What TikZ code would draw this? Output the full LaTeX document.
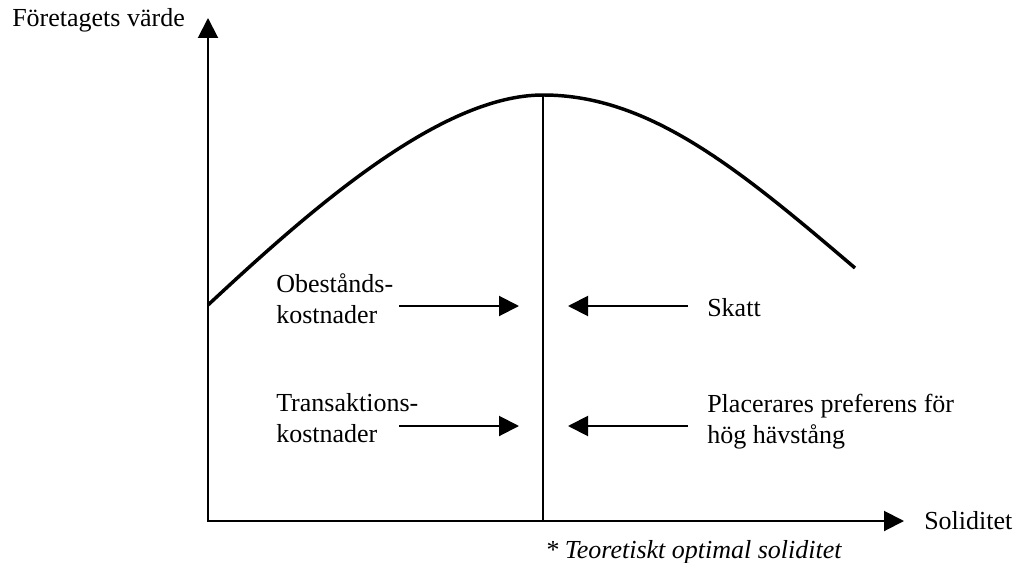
\documentclass[tikz,border=0pt]{standalone}
\usepackage{fontspec}
\setmainfont{Liberation Serif}
\usetikzlibrary{arrows.meta}
\begin{document}
\begin{tikzpicture}[x=0.75pt,y=-0.75pt,
  lbl/.style={inner sep=0pt, font=\fontsize{19.5}{23.25}\selectfont, align=left},
  ax/.style={line width=1.5pt, {Triangle[length=15pt,width=15pt]}-{Triangle[length=15pt,width=15pt]}},
  arr/.style={line width=1.5pt, -{Triangle[length=15pt,width=15pt]}},
  curve/.style={line width=2.6pt},
  ]
\useasboundingbox (0,0) rectangle (1016,563);
\coordinate (O) at (208,521);
\coordinate (ytip) at (208,18);
\coordinate (xtip) at (904,521);
\coordinate (start) at (208,305);
\coordinate (peak) at (543,95);
\coordinate (end) at (855,268);
\draw[ax] (ytip) -- (O) -- (xtip);
\draw[curve] (start) .. controls (310,210) and (440,95) .. (peak)
  .. controls (650,95) and (740,170) .. (end);
\draw[line width=1.5pt] (peak) -- (peak |- O);

\node[lbl, anchor=base west] (fv) at (12,27) {Företagets värde};
\node[lbl, anchor=base west] (sol) at (924,529) {Soliditet};
\node[lbl, anchor=base west, font=\fontsize{19.5}{23.25}\selectfont\itshape] (opt) at (545,558) {* Teoretiskt optimal soliditet};

\node[lbl, anchor=base west] (ob) at (276,323) {Obestånds-\\kostnader};
\node[lbl, anchor=base west] (tr) at (276,442) {Transaktions-\\kostnader};
\node[lbl, anchor=base west] (sk) at (707,316) {Skatt};
\node[lbl, anchor=base west] (pl) at (707,443) {Placerares preferens för\\hög hävstång};

\coordinate (a1s) at (399,306);
\coordinate (a1e) at (519,306);
\coordinate (a2s) at (399,426);
\coordinate (a2e) at (519,426);
\coordinate (b1s) at (688,306);
\coordinate (b1e) at (568,306);
\coordinate (b2s) at (688,426);
\coordinate (b2e) at (568,426);
\draw[arr] (a1s) -- (a1e);
\draw[arr] (a2s) -- (a2e);
\draw[arr] (b1s) -- (b1e);
\draw[arr] (b2s) -- (b2e);
\end{tikzpicture}
\end{document}
